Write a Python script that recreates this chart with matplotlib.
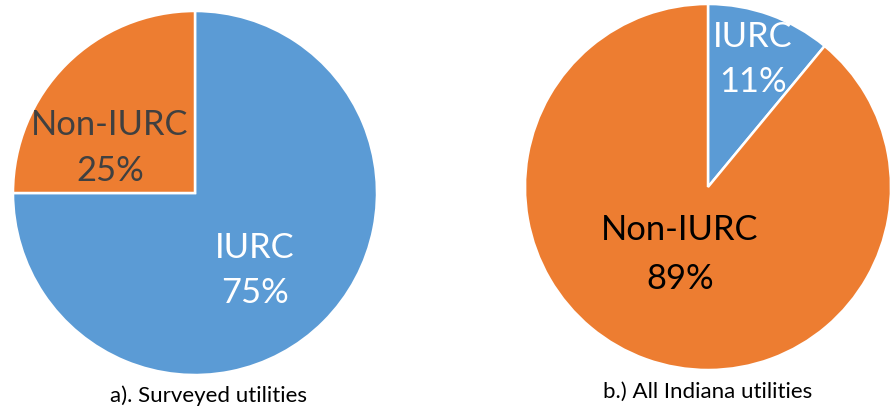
import matplotlib
matplotlib.use("Agg")
import matplotlib.pyplot as plt

# Data
categories = ["IURC", "Non-IURC"]
surveyed = [75, 25]
all_indiana = [11, 89]
captions = ["a). Surveyed utilities", "b.) All Indiana utilities"]

blue = "#5B9BD5"
orange = "#ED7D31"
colors = [blue, orange]

W, H = 891, 411
fig = plt.figure(figsize=(W / 100, H / 100), dpi=100)
ax = fig.add_axes([0, 0, 1, 1])

font = ["Lato", "DejaVu Sans"]

def Y(y):
    return H - y

# Left pie
ax.pie(surveyed, colors=colors, startangle=90, counterclock=False,
       center=(195, Y(193)), radius=182, frame=True,
       wedgeprops=dict(edgecolor="white", linewidth=1.8))
# Right pie
ax.pie(all_indiana, colors=colors, startangle=90, counterclock=False,
       center=(708, Y(187)), radius=183, frame=True,
       wedgeprops=dict(edgecolor="white", linewidth=1.8))
ax.set_xlim(0, W)
ax.set_ylim(0, H)
ax.set_aspect("equal")
ax.axis("off")

fs = 24.8
def lab(x, y1, y2, name, val, color):
    ax.text(x, Y(y1), name, ha="center", va="center", fontsize=fs, color=color, family=font)
    ax.text(x, Y(y2), f"{val}%", ha="center", va="center", fontsize=fs, color=color, family=font)

lab(110, 125, 171, categories[1], surveyed[1], "#404040")
lab(255, 248, 293, categories[0], surveyed[0], "white")
lab(753, 37, 82, categories[0], all_indiana[0], "white")
lab(680, 230, 279, categories[1], all_indiana[1], "black")

ax.text(208, Y(396), captions[0], ha="center", va="center", fontsize=16, color="black", family=font)
ax.text(708, Y(392), captions[1], ha="center", va="center", fontsize=16, color="black", family=font)

fig.savefig("out.png", dpi=100)
